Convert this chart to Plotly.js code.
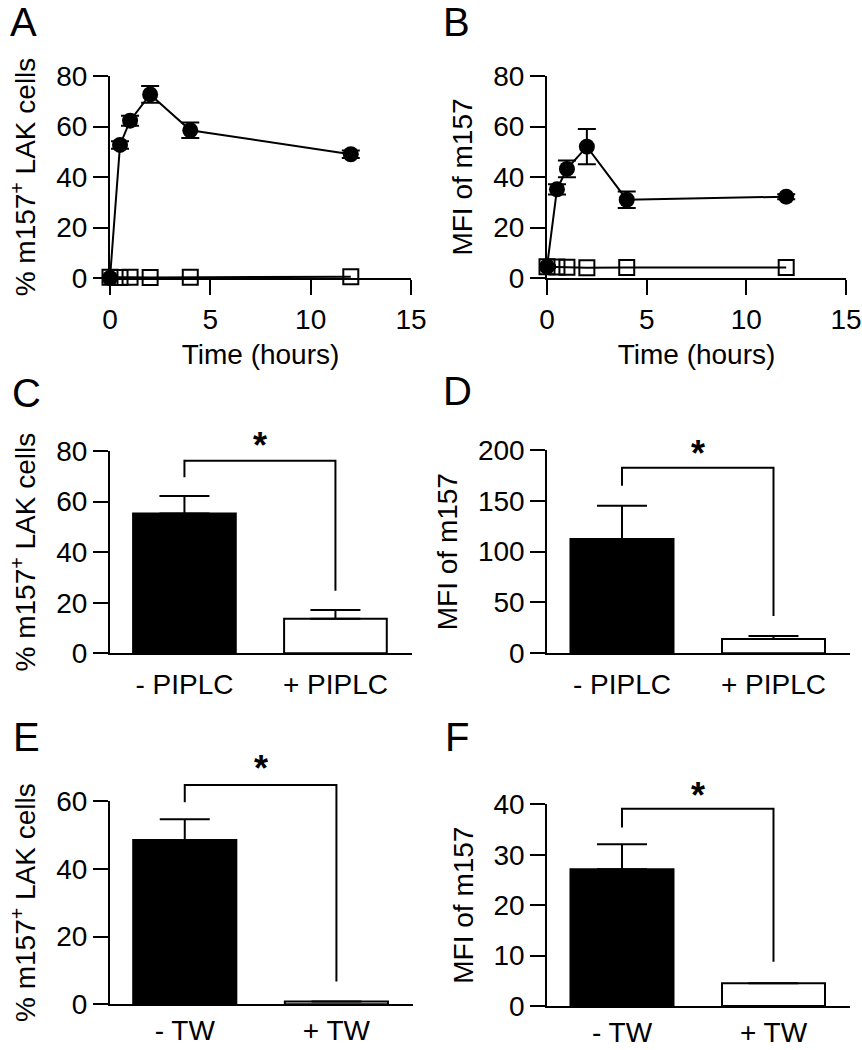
<!DOCTYPE html>
<html><head><meta charset="utf-8">
<script src="https://cdn.plot.ly/plotly-3.0.1.min.js"></script>
<style>html,body{margin:0;padding:0;background:#fff}</style>
</head><body><div id="chart" style="width:862px;height:1050px"></div>
<script>
// ---------- data ----------
const timeHours = [0, 0.5, 1, 2, 4, 12];
const aFilled = [0, 52.7, 62.3, 72.7, 58.5, 49];
const aFilledErr = [0, 1.5, 2, 3.3, 3.1, 1.5];
const aOpen = [0.3, 0.2, 0.3, 0.2, 0.3, 0.5];
const bFilled = [4.5, 35.1, 43.2, 52, 31, 32.2];
const bFilledErr = [0.5, 2, 3.3, 7, 3.3, 1];
const bOpen = [4.5, 4.4, 4.3, 4.1, 4.2, 4.2];

const piplcLabels = ['- PIPLC', '+ PIPLC'];
const twLabels = ['- TW', '+ TW'];
const cMeans = [55.3, 13.7];  const cErr = [6.9, 3.4];
const dMeans = [112.4, 14];   const dErr = [32.8, 3];
const eMeans = [48.5, 0.8];   const eErr = [6.1, 0];
const fMeans = [27.1, 4.5];   const fErr = [5.0, 0];
// significance brackets: [left leg bottom, bracket top, right leg bottom]
const cBracket = [69.6, 76.1, 24.7]; const cStar = 85.1;
const dBracket = [164.9, 182.6, 36.7]; const dStar = 203.2;
const eBracket = [59.6, 64.7, 6.7]; const eStar = 71.6;
const fBracket = [35.4, 39.1, 8.8]; const fStar = 43.2;

const pctTitle = '% m157<sup>+</sup> LAK cells';
const mfiTitle = 'MFI of m157';
const timeTitle = 'Time (hours)';

// ---------- layout helpers ----------
const W = 862, H = 1050;
const FONT = '"Liberation Sans", Arial, Helvetica, sans-serif';
const TXT = {family: FONT, size: 28, color: '#000'};
const px2x = p => p / W;
const px2y = p => 1 - p / H;

function axis(extra) {
  return Object.assign({
    showgrid: false, zeroline: false, showline: true, linewidth: 2, linecolor: '#000',
    ticks: 'outside', ticklen: 15, tickwidth: 2, tickcolor: '#000',
    tickfont: TXT, fixedrange: true
  }, extra);
}

const layout = {
  width: W, height: H, margin: {l: 0, r: 0, t: 0, b: 0},
  showlegend: false, paper_bgcolor: '#fff', plot_bgcolor: 'rgba(0,0,0,0)',
  font: {family: FONT, color: '#000'}, annotations: []
};
const data = [];

// ---------- line panels A, B ----------
function linePanel(n, xPx, filled, filledErr, open, yTitle, yStand) {
  const xa = n === 1 ? 'xaxis' : 'xaxis' + n, ya = n === 1 ? 'yaxis' : 'yaxis' + n;
  const xr = n === 1 ? 'x' : 'x' + n, yr = n === 1 ? 'y' : 'y' + n;
  layout[xa] = axis({domain: [px2x(xPx[0]), px2x(xPx[1])], anchor: yr, range: [0, 15],
    tickvals: [0, 5, 10, 15], title: {text: timeTitle, font: TXT, standoff: 11}});
  layout[ya] = axis({domain: [px2y(278), px2y(76)], anchor: xr, range: [0, 80],
    tickvals: [0, 20, 40, 60, 80], title: {text: yTitle, font: TXT, standoff: yStand}});
  data.push({x: timeHours, y: open, xaxis: xr, yaxis: yr, mode: 'lines+markers', cliponaxis: false,
    line: {color: '#000', width: 2},
    marker: {symbol: 'square-open', size: 15, color: '#000', line: {width: 2, color: '#000'}}});
  data.push({x: timeHours, y: filled, xaxis: xr, yaxis: yr, mode: 'lines+markers', cliponaxis: false,
    line: {color: '#000', width: 2},
    marker: {symbol: 'circle', size: 16, color: '#000'},
    error_y: {type: 'data', array: filledErr, color: '#000', thickness: 2, width: 9}});
}
linePanel(1, [110, 411], aFilled, aFilledErr, aOpen, pctTitle, 12);
linePanel(2, [547, 846], bFilled, bFilledErr, bOpen, mfiTitle, 12);

// ---------- bar panels C-F ----------
function barPanel(n, hid, xPx, zeroPx, topPx, ticks, extTop, labels, means, errs, bracket, star, yTitle, yStand, lblStand) {
  const xr = 'x' + n, yr = 'y' + n, hx = 'x' + hid, hy = 'y' + hid;
  const tickTop = ticks[ticks.length - 1];
  const extPx = zeroPx - (extTop / tickTop) * (zeroPx - topPx);
  const xRange = [-0.493, 1.505];
  const pos = labels.map((_, i) => i);
  layout['xaxis' + n] = axis({domain: [px2x(xPx[0]), px2x(xPx[1])], anchor: yr, range: xRange,
    tickvals: pos, ticktext: labels, ticks: '', ticklabelstandoff: lblStand});
  layout['yaxis' + n] = axis({domain: [px2y(zeroPx), px2y(topPx)], anchor: xr, range: [0, tickTop],
    tickvals: ticks, title: {text: yTitle, font: TXT, standoff: yStand}});
  // hidden axes sharing the same scale, taller so bracket and star fit
  layout['xaxis' + hid] = {domain: [px2x(xPx[0]), px2x(xPx[1])], anchor: hy, range: xRange, visible: false, fixedrange: true};
  layout['yaxis' + hid] = {domain: [px2y(zeroPx), px2y(extPx)], anchor: hx, range: [0, extTop], visible: false, fixedrange: true};
  data.push({type: 'bar', x: pos, y: means, width: 0.68, xaxis: xr, yaxis: yr,
    marker: {color: ['#000', '#fff'], line: {color: '#000', width: 2}},
    error_y: {type: 'data', symmetric: false, array: errs, arrayminus: errs.map(() => 0),
      color: '#000', thickness: 2, width: 25}});
  data.push({x: [pos[0], pos[0], pos[1], pos[1]], y: [bracket[0], bracket[1], bracket[1], bracket[2]],
    xaxis: hx, yaxis: hy, mode: 'lines', line: {color: '#000', width: 2}});
  layout.annotations.push({xref: hx, yref: hy, x: (pos[0] + pos[1]) / 2, y: star, text: '*',
    showarrow: false, yanchor: 'middle', yshift: -7,
    font: {family: FONT, size: 36, color: '#000', weight: 700}});
}
barPanel(3, 7, [110, 411.7], 653.3, 451, [0, 20, 40, 60, 80], 95, piplcLabels, cMeans, cErr, cBracket, cStar, pctTitle, 12, 5);
barPanel(4, 8, [547.3, 850], 653.3, 450, [0, 50, 100, 150, 200], 225, piplcLabels, dMeans, dErr, dBracket, dStar, mfiTitle, 12, 5);
barPanel(5, 9, [110, 413], 1004.3, 801, [0, 20, 40, 60], 80, twLabels, eMeans, eErr, eBracket, eStar, pctTitle, 12, 0);
barPanel(6, 10, [547.3, 850], 1006, 804.3, [0, 10, 20, 30, 40], 50, twLabels, fMeans, fErr, fBracket, fStar, mfiTitle, 12, 0);

// ---------- panel letters ----------
const letters = [['A', 8, 0, 'top'], ['B', 441, 0, 'top'], ['C', 10, 392.5, 'middle'], ['D', 441, 391, 'middle'], ['E', 11, 737, 'middle'], ['F', 443, 737, 'middle']];
letters.forEach(([t, x, y, ya]) => layout.annotations.push({xref: 'paper', yref: 'paper', x: px2x(x), y: px2y(y),
  xanchor: 'left', yanchor: ya, yshift: ya === 'top' ? 2 : 0, text: t, showarrow: false,
  font: {family: FONT, size: 40, color: '#000'}}));

Plotly.newPlot('chart', data, layout, {staticPlot: true, displayModeBar: false});
</script>
</body></html>
